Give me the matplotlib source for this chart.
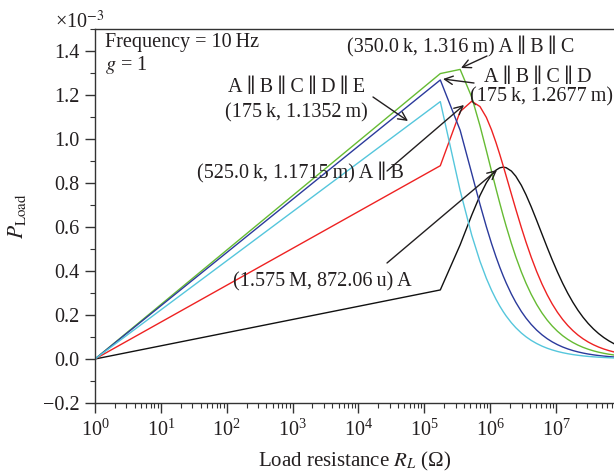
import matplotlib
matplotlib.use("Agg")
import matplotlib.pyplot as plt
from matplotlib.ticker import LogLocator, FixedLocator, MultipleLocator, NullFormatter

# ---------------- data (P in units of 1e-3 W) ----------------
R_load = [1, 1.75e5, 3.5e5, 5.25e5, 7e5, 8.75e5, 1.05e6, 1.225e6, 1.4e6, 1.575e6,
          1.75e6, 2.1e6, 2.45e6, 2.975e6, 3.5e6, 4.2e6, 5.075e6, 6.125e6, 7.35e6,
          8.75e6, 1.05e7, 1.26e7, 1.505e7, 1.8025e7, 2.1525e7, 2.5725e7, 3.08e7,
          3.6925e7, 4.4275e7, 5.3025e7, 6.3525e7, 7.6125e7]

P_A = [0.0, 0.3139, 0.5189, 0.6540, 0.7431, 0.8009, 0.8372, 0.8584, 0.8690, 0.8721,
       0.8696, 0.8543, 0.8308, 0.7895, 0.7466, 0.6919, 0.6305, 0.5676, 0.5069,
       0.4509, 0.3956, 0.3445, 0.2992, 0.2578, 0.2216, 0.1896, 0.1614, 0.1369,
       0.1157, 0.0977, 0.0824, 0.0693]

P_AB = [0.0, 0.8786, 1.1246, 1.1715, 1.1476, 1.0983, 1.0413, 0.9841, 0.9295, 0.8786,
        0.8318, 0.7498, 0.6810, 0.5975, 0.5315, 0.4628, 0.3981, 0.3407, 0.2916,
        0.2502, 0.2125, 0.1799, 0.1526, 0.1289, 0.1089, 0.0918, 0.0772, 0.0648,
        0.0543, 0.0455, 0.0381, 0.0319]

P_ABC = [0.0, 1.2974, 1.3163, 1.1906, 1.0605, 0.9478, 0.8534, 0.7745, 0.7082, 0.6518,
         0.6036, 0.5252, 0.4646, 0.3958, 0.3447, 0.2939, 0.2482, 0.2091, 0.1766,
         0.1500, 0.1262, 0.1060, 0.0893, 0.0750, 0.0631, 0.0530, 0.0444, 0.0371,
         0.0310, 0.0260, 0.0217, 0.0181]

P_ABCD = [0.0, 1.2683, 1.0400, 0.8438, 0.7035, 0.6015, 0.5245, 0.4648, 0.4170, 0.3781,
          0.3458, 0.2952, 0.2576, 0.2161, 0.1861, 0.1571, 0.1314, 0.1099, 0.0922,
          0.0779, 0.0653, 0.0546, 0.0459, 0.0384, 0.0323, 0.0270, 0.0226, 0.0189,
          0.0158, 0.0132, 0.0110, 0.0092]

P_ABCDE = [0.0, 1.1700, 0.7655, 0.5630, 0.4444, 0.3668, 0.3122, 0.2717, 0.2405, 0.2157,
           0.1955, 0.1647, 0.1423, 0.1181, 0.1010, 0.0846, 0.0704, 0.0585, 0.0489,
           0.0412, 0.0344, 0.0287, 0.0241, 0.0201, 0.0169, 0.0141, 0.0118, 0.0099,
           0.0082, 0.0069, 0.0057, 0.0048]

y_ticks = [-0.2, 0.0, 0.2, 0.4, 0.6, 0.8, 1.0, 1.2, 1.4]
y_tick_labels = ["\u22120.2", "0.0", "0.2", "0.4", "0.6", "0.8", "1.0", "1.2", "1.4"]

# ---------------- style ----------------
plt.rcParams['font.family'] = ['Liberation Serif', 'DejaVu Serif']
plt.rcParams['mathtext.fontset'] = 'stix'
TXT = '#231f20'
FS = 14.5
TS = '\u2009'          # thin space
PAR = TS + '\u2225' + TS

W, H = 614, 476
fig = plt.figure(figsize=(W / 100, H / 100), dpi=100)
ax_l, ax_r, ax_t, ax_b = 95, 614, 29, 403
ax = fig.add_axes([ax_l / W, 1 - ax_b / H, (ax_r - ax_l) / W, (ax_b - ax_t) / H])

lw = 1.0
ax.plot(R_load, P_A, color='#111111', lw=lw)
ax.plot(R_load, P_AB, color='#ee2222', lw=lw)
ax.plot(R_load, P_ABC, color='#66bb33', lw=lw)
ax.plot(R_load, P_ABCD, color='#2b3a9c', lw=lw)
ax.plot(R_load, P_ABCDE, color='#55c6dc', lw=lw)

ax.set_xscale('log')
ax.set_xlim(1, 10 ** ((614 - 95) / 65.86))
ax.set_ylim(-0.2, 1.5)

ax.xaxis.set_major_locator(LogLocator(base=10, numticks=20))
ax.xaxis.set_minor_locator(LogLocator(base=10, subs=range(2, 10), numticks=100))
ax.xaxis.set_minor_formatter(NullFormatter())
ax.yaxis.set_major_locator(FixedLocator(y_ticks))
ax.set_yticklabels(y_tick_labels)
ax.yaxis.set_minor_locator(MultipleLocator(0.1))

for s in ['left', 'bottom', 'top']:
    ax.spines[s].set_color('#333333')
    ax.spines[s].set_linewidth(1.0)
ax.spines['right'].set_visible(False)

ax.tick_params(which='major', direction='out', length=7, width=1.0, color='#333333',
               labelsize=FS, labelcolor=TXT, pad=4)
ax.tick_params(which='minor', direction='out', length=3.5, width=0.8, color='#333333')
ax.tick_params(axis='x', which='major', pad=5)

ax.set_xlabel('Load resistance $R_L$ (\u03a9)', fontsize=15, color=TXT)
ax.xaxis.set_label_coords(0.5, -0.125)
ax.xaxis.label.set_va('top')
ax.set_ylabel('$P_{\\mathrm{Load}}$', fontsize=15.5, color=TXT)
ax.yaxis.set_label_coords(-0.13, 0.5)


def fy(y):
    return H - y


# offset text
fig.text(55 / W, 1 - 22 / H, '\u00d710$^{-3}$', fontsize=FS, color=TXT,
         ha='left', va='center')

ax.annotate('Frequency = 10' + TS + 'Hz', xy=(105, fy(42)), xycoords='figure pixels',
            fontsize=FS, color=TXT, ha='left', va='center')
ax.annotate('$g$ = 1', xy=(105, fy(65)), xycoords='figure pixels',
            fontsize=FS, color=TXT, ha='left', va='center')

arrow = dict(arrowstyle='->', lw=1.0, color=TXT, shrinkA=0, shrinkB=0,
             mutation_scale=15)

# A||B||C
ax.annotate('(350.0' + TS + 'k, 1.316' + TS + 'm) A' + PAR + 'B' + PAR + 'C',
            xy=(460.5, fy(47)), xycoords='figure pixels', fontsize=FS, color=TXT,
            ha='center', va='center')
ax.annotate('', xy=(461, fy(68)), xytext=(487, fy(56)), xycoords='figure pixels',
            textcoords='figure pixels', arrowprops=arrow)

# A||B||C||D
ax.annotate('A' + PAR + 'B' + PAR + 'C' + PAR + 'D', xy=(538, fy(77)),
            xycoords='figure pixels', fontsize=FS, color=TXT, ha='center', va='center')
ax.annotate('(175' + TS + 'k, 1.2677' + TS + 'm)', xy=(541, fy(97)),
            xycoords='figure pixels', fontsize=FS, color=TXT, ha='center', va='center')
ax.annotate('', xy=(443, fy(79)), xytext=(474, fy(83)), xycoords='figure pixels',
            textcoords='figure pixels', arrowprops=arrow)

# A||B||C||D||E
ax.annotate('A' + PAR + 'B' + PAR + 'C' + PAR + 'D' + PAR + 'E', xy=(297, fy(88)),
            xycoords='figure pixels', fontsize=FS, color=TXT, ha='center', va='center')
ax.annotate('(175' + TS + 'k, 1.1352' + TS + 'm)', xy=(296, fy(113)),
            xycoords='figure pixels', fontsize=FS, color=TXT, ha='center', va='center')
ax.annotate('', xy=(408, fy(121)), xytext=(373, fy(97)), xycoords='figure pixels',
            textcoords='figure pixels', arrowprops=arrow)

# A||B
ax.annotate('(525.0' + TS + 'k, 1.1715' + TS + 'm) A' + PAR + 'B', xy=(300, fy(173)),
            xycoords='figure pixels', fontsize=FS, color=TXT, ha='center', va='center')
ax.annotate('', xy=(464, fy(105)), xytext=(387, fy(171)), xycoords='figure pixels',
            textcoords='figure pixels', arrowprops=arrow)

# A
ax.annotate('(1.575' + TS + 'M, 872.06' + TS + 'u) A', xy=(322, fy(282)),
            xycoords='figure pixels', fontsize=FS, color=TXT, ha='center', va='center')
ax.annotate('', xy=(497, fy(170)), xytext=(387, fy(263)), xycoords='figure pixels',
            textcoords='figure pixels', arrowprops=arrow)

fig.savefig('out.png', dpi=100)
